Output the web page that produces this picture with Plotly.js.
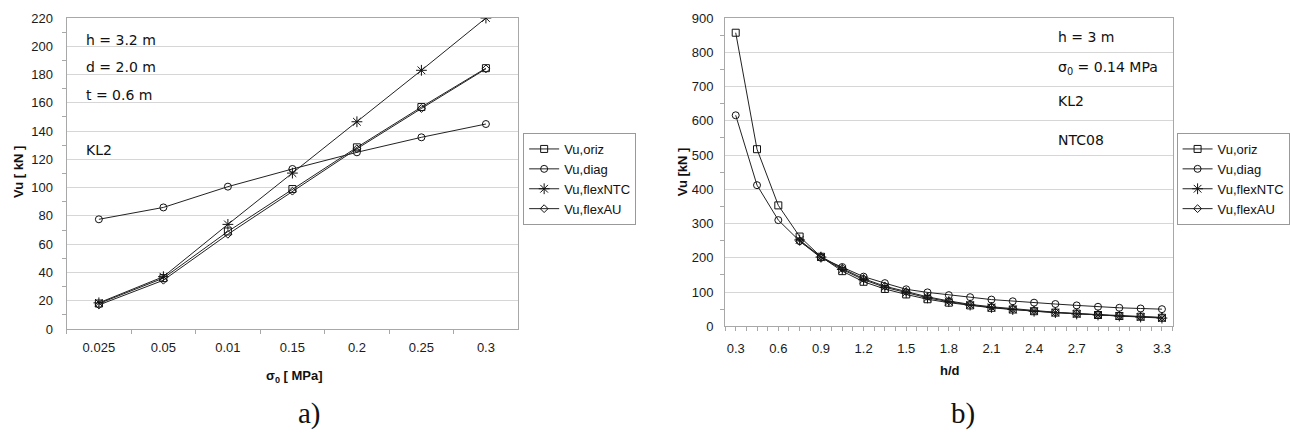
<!DOCTYPE html>
<html>
<head>
<meta charset="utf-8">
<script src="https://cdn.plot.ly/plotly-3.0.1.min.js"></script>
<style>html,body{margin:0;padding:0;background:#fff;}#chart{width:1290px;height:435px;}</style>
</head>
<body>
<div id="chart"></div>
<script>
// ---- Chart a) data ----
const sigmaCats = ['0.025', '0.05', '0.01', '0.15', '0.2', '0.25', '0.3'];
const aOriz    = [18, 36, 69, 99, 128.5, 157, 184.5];
const aDiag    = [77.6, 86, 100.7, 113.2, 125, 135.6, 145];
const aFlexNTC = [18.5, 37, 74, 110.3, 146.6, 183, 220];
const aFlexAU  = [17, 34.5, 67, 97.5, 127.5, 156, 184];

// ---- Chart b) data ----
const hd       = [0.3, 0.45, 0.6, 0.75, 0.9, 1.05, 1.2, 1.35, 1.5, 1.65, 1.8, 1.95, 2.1, 2.25, 2.4, 2.55, 2.7, 2.85, 3.0, 3.15, 3.3];
const bOriz    = [857, 517, 353, 262, 203, 161, 130, 109, 93, 79, 69, 61, 54, 49, 44, 40, 37, 33, 30, 28, 25];
const bDiag    = [616, 412, 310, 249, 200, 173, 145, 126, 108, 99, 91, 85, 78, 73, 69, 65, 61, 57, 54, 52, 50];
const bFlexNTC = [null, null, null, 252, 202, 166, 136, 114, 98, 83, 72, 62, 55, 49, 44, 40, 36, 33, 30, 27, 24];
const bFlexAU  = [null, null, null, 248, 204, 169, 139, 117, 101, 86, 74, 64, 57, 51, 46, 41, 37, 34, 31, 28, 26];

const seriesNames = ['Vu,oriz', 'Vu,diag', 'Vu,flexNTC', 'Vu,flexAU'];
const symbols = ['square-open', 'circle-open', 'asterisk-open', 'diamond-open'];
const msizes = [7, 7, 9, 6];

const W = 1290, H = 435;
const px = x => x / W;
const py = y => 1 - y / H;

const SANS = 'Liberation Sans, Arial, sans-serif';
const VERD = 'DejaVu Sans, Verdana, sans-serif';
const SERIF = 'Liberation Serif, Times New Roman, serif';

function mk(x, y, i, xa, ya, leg) {
  return {
    x: x, y: y, type: 'scatter', mode: 'lines+markers', name: seriesNames[i],
    xaxis: xa, yaxis: ya, legend: leg, connectgaps: false,
    line: {color: '#222', width: 1},
    marker: {symbol: symbols[i], size: msizes[i], color: '#111', line: {width: 1, color: '#111'}}
  };
}

const aSeries = [aOriz, aDiag, aFlexNTC, aFlexAU];
const bSeries = [bOriz, bDiag, bFlexNTC, bFlexAU];
const traces = [];
aSeries.forEach((s, i) => traces.push(mk(sigmaCats, s, i, 'x', 'y', 'legend')));
bSeries.forEach((s, i) => traces.push(mk(hd, s, i, 'x2', 'y2', 'legend2')));

const gridC = '#d6d6d6', lineC = '#a8a8a8', tickFont = {family: SANS, size: 13, color: '#1a1a1a'};

const layout = {
  width: W, height: H,
  margin: {l: 0, r: 0, t: 0, b: 0},
  paper_bgcolor: '#fff', plot_bgcolor: '#fff',
  showlegend: true,
  xaxis: {
    domain: [px(67), px(521)], anchor: 'y', type: 'category', range: [-0.5, 6.5],
    tickson: 'boundaries', ticks: 'outside', ticklen: 4, tickcolor: lineC,
    showgrid: false, showline: true, linecolor: lineC, mirror: true,
    tickfont: tickFont, ticklabelstandoff: 6, zeroline: false
  },
  yaxis: {
    domain: [py(329), py(18)], anchor: 'x', range: [0, 220], dtick: 20,
    showgrid: true, gridcolor: gridC, showline: true, linecolor: lineC, mirror: true,
    ticks: '', tickfont: tickFont, ticklabelstandoff: 10, zeroline: false,
    minor: {dtick: 10, ticks: 'outside', ticklen: 4, tickcolor: lineC, showgrid: false}
  },
  xaxis2: {
    domain: [px(729), px(1179)], anchor: 'y2', type: 'linear', range: [0.225, 3.375],
    tick0: 0.3, dtick: 0.3, ticks: 'outside', ticklen: 4, tickcolor: lineC,
    showgrid: false, showline: true, linecolor: lineC, mirror: true,
    tickfont: tickFont, ticklabelstandoff: 6, zeroline: false,
    minor: {tick0: 0.225, dtick: 0.075, ticks: 'outside', ticklen: 4, tickcolor: lineC, showgrid: false}
  },
  yaxis2: {
    domain: [py(326.3), py(18)], anchor: 'x2', range: [0, 900], dtick: 100,
    showgrid: true, gridcolor: gridC, showline: true, linecolor: lineC, mirror: true,
    ticks: '', tickfont: tickFont, ticklabelstandoff: 8, zeroline: false,
    minor: {dtick: 50, ticks: 'outside', ticklen: 4, tickcolor: lineC, showgrid: false}
  },
  legend: {
    x: px(526), y: py(133), xanchor: 'left', yanchor: 'top',
    bordercolor: '#999', borderwidth: 1, bgcolor: '#fff',
    font: {family: SANS, size: 13, color: '#111'}, itemwidth: 30, tracegroupgap: 0
  },
  legend2: {
    x: px(1183), y: py(133), xanchor: 'left', yanchor: 'top',
    bordercolor: '#999', borderwidth: 1, bgcolor: '#fff',
    font: {family: SANS, size: 13, color: '#111'}, itemwidth: 30, tracegroupgap: 0
  },
  annotations: []
};

function ann(text, x, y, opts) {
  layout.annotations.push(Object.assign({
    text: text, x: px(x), y: py(y), xref: 'paper', yref: 'paper',
    showarrow: false, xanchor: 'left', yanchor: 'middle',
    font: {family: VERD, size: 14, color: '#111'}
  }, opts || {}));
}

// chart a) notes
ann('h = 3.2 m', 84, 40);
ann('d = 2.0 m', 84, 67);
ann('t = 0.6 m', 84, 95);
ann('KL2', 84, 150);
// chart b) notes
ann('h = 3 m', 1062, 37);
ann('σ<sub>0</sub> = 0.14 MPa', 1062, 68);
ann('KL2', 1062, 101);
ann('NTC08', 1062, 140);

// axis titles
const titleFont = {family: SANS, size: 13, color: '#111', weight: 'bold'};
ann('<b>Vu [ kN ]</b>', 18, 172, {xanchor: 'center', textangle: -90, font: titleFont});
ann('<b>σ<sub>0</sub> [ MPa]</b>', 296, 376, {xanchor: 'center', font: titleFont});
ann('<b>Vu [kN ]</b>', 686, 172, {xanchor: 'center', textangle: -90, font: titleFont});
ann('<b>h/d</b>', 955, 370, {xanchor: 'center', font: titleFont});

// panel labels
ann('a)', 311, 413, {xanchor: 'center', font: {family: SERIF, size: 29, color: '#111'}});
ann('b)', 968, 413, {xanchor: 'center', font: {family: SERIF, size: 29, color: '#111'}});

Plotly.newPlot('chart', traces, layout, {displayModeBar: false, staticPlot: true});
</script>
</body>
</html>
